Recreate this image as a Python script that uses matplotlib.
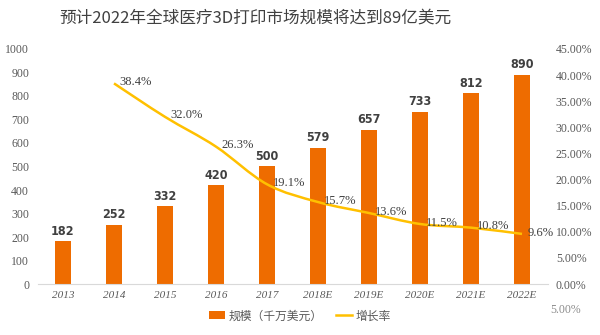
import matplotlib
matplotlib.use('Agg')
import matplotlib.pyplot as plt
from matplotlib.path import Path
from matplotlib.patches import PathPatch
from matplotlib.ticker import FuncFormatter
import numpy as np

plt.rcParams['font.family'] = ['Noto Sans CJK SC', 'DejaVu Sans']

years = ['2013', '2014', '2015', '2016', '2017', '2018E', '2019E', '2020E', '2021E', '2022E']
scale = [182, 252, 332, 420, 500, 579, 657, 733, 812, 890]
growth_years = years[1:]
growth = [0.384, 0.320, 0.263, 0.191, 0.157, 0.136, 0.115, 0.108, 0.096]
growth_labels = ['38.4%', '32.0%', '26.3%', '19.1%', '15.7%', '13.6%', '11.5%', '10.8%', '9.6%']

bar_color = '#EE6C00'
line_color = '#FFC000'
txt = '#404040'

fig = plt.figure(figsize=(6, 3.35), dpi=100)
ax = fig.add_axes([0.0625, 0.152, 0.85, 0.702])
ax2 = ax.twinx()

x = np.arange(len(years))
ax.bar(x, scale, width=0.31, color=bar_color, label='规模（千万美元）', zorder=2)
for xi, v in zip(x, scale):
    ax.annotate(str(v), (xi, v), xytext=(0, 2.5), textcoords='offset points',
                ha='center', va='bottom', fontsize=9, fontweight='bold',
                fontstretch='condensed', family=['DejaVu Sans'], color=txt)

ax.set_xlim(-0.5, len(years) - 0.5)
ax.set_ylim(0, 1000)
ax.set_yticks(range(0, 1001, 100))
ax.set_xticks(x)
ax.set_xticklabels(years, family=['Liberation Serif'], style='italic', fontsize=8, color='#595959')
for lab in ax.get_yticklabels():
    lab.set_family(['Liberation Serif'])
    lab.set_fontsize(8.5)
    lab.set_color('#595959')
ax.tick_params(axis='both', length=0)
ax.tick_params(axis='y', pad=6)
ax.tick_params(axis='x', pad=5)
for s in ['top', 'right', 'left']:
    ax.spines[s].set_visible(False)
for s in ['top', 'right', 'left', 'bottom']:
    ax2.spines[s].set_visible(False)
ax.spines['bottom'].set_color('#d9d9d9')

# smoothed growth line (Catmull-Rom through the data points)
gx = np.arange(1, len(years))
gy = np.array(growth)
pts = np.column_stack([gx, gy])
verts = [pts[0]]
codes = [Path.MOVETO]
n = len(pts)
for i in range(n - 1):
    p0 = pts[max(i - 1, 0)]
    p1 = pts[i]
    p2 = pts[i + 1]
    p3 = pts[min(i + 2, n - 1)]
    c1 = p1 + (p2 - p0) / 6
    c2 = p2 - (p3 - p1) / 6
    verts += [c1, c2, p2]
    codes += [Path.CURVE4] * 3
ax2.add_patch(PathPatch(Path(verts, codes), facecolor='none', edgecolor=line_color, lw=1.8, zorder=3))
ax2.plot([], [], color=line_color, lw=1.8, label='增长率')
for xi, v, l in zip(gx, gy, growth_labels):
    ax2.annotate(l, (xi, v), xytext=(4, 1), textcoords='offset points',
                 ha='left', va='center', fontsize=9, family=['Liberation Serif'], color=txt)

ax2.set_ylim(0, 0.45)
ax2.set_yticks(np.arange(0, 0.451, 0.05))
ax2.yaxis.set_major_formatter(FuncFormatter(lambda v, p: '%.2f%%' % (v * 100)))
for lab in ax2.get_yticklabels():
    lab.set_family(['Liberation Serif'])
    lab.set_fontsize(8.5)
    lab.set_color('#595959')
ax2.tick_params(axis='y', length=0, pad=6)
fig.text(0.917, 0.075, '5.00%', family=['Liberation Serif'], fontsize=8.5, color='#8c8c8c', va='center')

fig.text(0.425, 0.945, '预计2022年全球医疗3D打印市场规模将达到89亿美元', ha='center', va='center',
         fontsize=12, color=txt)

h1, l1 = ax.get_legend_handles_labels()
h2, l2 = ax2.get_legend_handles_labels()
fig.legend(h1 + h2, l1 + l2, loc='center', bbox_to_anchor=(0.5, 0.057), ncol=2, frameon=False,
           fontsize=8.5, labelcolor='#595959', handlelength=1.3, handleheight=0.6,
           columnspacing=1.2, handletextpad=0.3)

fig.savefig('out.png', dpi=100)
